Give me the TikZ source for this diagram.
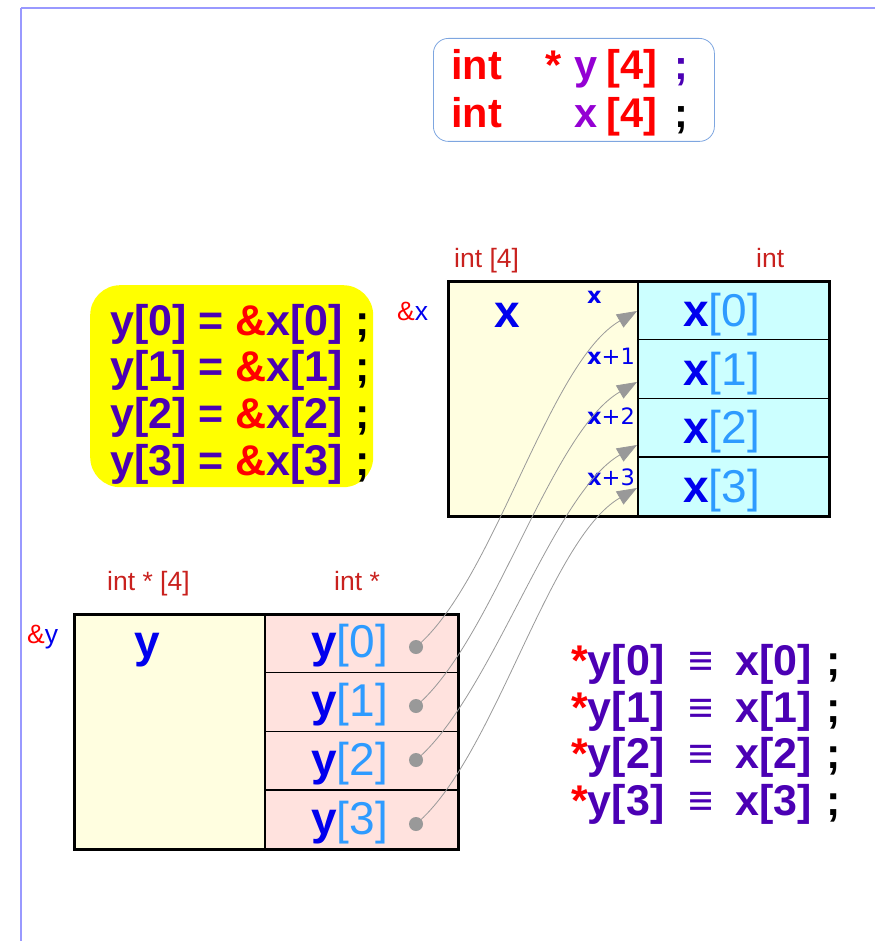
\documentclass[tikz,border=0pt]{standalone}
\usepackage{fontspec}
\setmainfont{Liberation Sans}
\newfontfamily\dejavu{DejaVu Sans}
\usetikzlibrary{arrows.meta,calc}
\definecolor{frameblue}{HTML}{9999FF}
\definecolor{boxblue}{HTML}{7EA6E0}
\definecolor{yel}{HTML}{FFFF00}
\definecolor{lightyel}{HTML}{FFFEE0}
\definecolor{xcyan}{HTML}{CCFFFF}
\definecolor{ypink}{HTML}{FFE2DE}
\definecolor{typered}{HTML}{C9211E}
\definecolor{ampred}{HTML}{FF0000}
\definecolor{xblue}{HTML}{0000EE}
\definecolor{idxblue}{HTML}{2E9BFF}
\definecolor{indig}{HTML}{4B00B4}
\definecolor{purp}{HTML}{9400D3}
\definecolor{arrgray}{HTML}{999999}
\newcommand{\fdecl}{\fontsize{41.5}{46}\selectfont\bfseries}
\newcommand{\fbig}{\fontsize{43}{48}\selectfont\bfseries}
\newcommand{\fcell}{\fontsize{46}{50}\selectfont}
\newcommand{\ftype}{\fontsize{26.5}{30}\selectfont}
\newcommand{\flab}{\fontsize{22.5}{26}\selectfont\dejavu}
\newcommand{\cellx}[1]{\textbf{\textcolor{xblue}{x}}\textcolor{idxblue}{[#1]}}
\newcommand{\celly}[1]{\textbf{\textcolor{xblue}{y}}\textcolor{idxblue}{[#1]}}
\begin{document}
\begin{tikzpicture}[x=1pt,y=1pt,
  txt/.style={inner sep=0pt, anchor=base west},
  cellbox/.style={draw=black, line width=1.5pt, inner sep=0pt, anchor=north west},
  outerbox/.style={draw=black, line width=3pt, inner sep=0pt, anchor=north west},
  dotnode/.style={circle, fill=arrgray, inner sep=0pt, minimum size=14pt},
  ptr/.style={draw=arrgray, line width=0.8pt, -{Triangle[length=20pt,width=15pt]}, out=40, in=210, looseness=0.65}
]
\useasboundingbox (0,0) rectangle (875,-941);
% frame
\coordinate (ftl) at (21,-8);
\coordinate (ftr) at (875,-8);
\coordinate (fbl) at (21,-941);
\draw[frameblue, line width=2pt] (ftl) -- (ftr);
\draw[frameblue, line width=1.2pt] (ftl) -- (fbl);

% declaration box
\node[draw=boxblue, line width=0.8pt, rounded corners=15pt, minimum width=281pt, minimum height=103pt, inner sep=0pt, anchor=north west] (decl) at (433,-38) {};
\node[txt, font=\fdecl, text=ampred] (d1a) at (451,-80) {int};
\node[txt, font=\fdecl, text=ampred] (d1b) at (545,-80) {*};
\node[txt, font=\fdecl, text=purp] (d1c) at (574,-80) {y};
\node[txt, font=\fdecl, text=ampred] (d1d) at (606,-80) {[4]};
\node[txt, font=\fdecl, text=indig] (d1e) at (674,-80) {;};
\node[txt, font=\fdecl, text=ampred] (d2a) at (451,-128) {int};
\node[txt, font=\fdecl, text=purp] (d2c) at (574,-128) {x};
\node[txt, font=\fdecl, text=ampred] (d2d) at (606,-128) {[4]};
\node[txt, font=\fdecl, text=black] (d2e) at (674,-128) {;};

% yellow statements
\node[fill=yel, rounded corners=30pt, minimum width=283pt, minimum height=202pt, inner sep=0pt, anchor=north west] (stmts) at (90,-285) {};
\foreach \i/\yy in {0/335,1/381.5,2/428,3/475}{
  \node[txt, font=\fbig, text=indig] (s\i) at (110,-\yy) {y[\i] = \textcolor{ampred}{\&}x[\i] \textcolor{black}{;}};
}

% x array
\node[cellbox, fill=lightyel, minimum width=190pt, minimum height=235pt] (xleft) at (447,-280) {};
\foreach \i in {0,1,2,3}{
  \node[cellbox, fill=xcyan, minimum width=191pt, minimum height=58.75pt] (xc\i) at (637,-280-58.75*\i) {};
}
\node[outerbox, minimum width=381pt, minimum height=235pt] (xbox) at (447,-280) {};
\foreach \i/\yy in {0/326,1/385,2/443.5,3/502}{
  \node[txt, font=\fcell] (xt\i) at (683,-\yy) {\cellx{\i}};
}
\node[txt, font=\ftype, text=typered] (xtype) at (454,-267) {int [4]};
\node[txt, font=\ftype, text=typered] (xetype) at (756,-267) {int};
\node[txt, font=\ftype] (xaddr) at (397,-320) {\textcolor{ampred}{\&}\textcolor{xblue}{x}};
\node[txt, font=\fcell\bfseries, text=xblue] (xname) at (494,-327) {x};
\node[txt, font=\flab\bfseries, text=xblue] (xl0) at (587,-303) {x};
\foreach \i/\yy in {1/364,2/424,3/485}{
  \node[txt, font=\flab, text=xblue] (xl\i) at (587,-\yy) {\textbf{x}+\i};
}

% y array
\node[cellbox, fill=lightyel, minimum width=191pt, minimum height=235pt] (yleft) at (73,-613) {};
\foreach \i in {0,1,2,3}{
  \node[cellbox, fill=ypink, minimum width=193pt, minimum height=58.75pt] (yc\i) at (264,-613-58.75*\i) {};
}
\node[outerbox, minimum width=384pt, minimum height=235pt] (ybox) at (73,-613) {};
\foreach \i/\yy in {0/657.5,1/716,2/775,3/834}{
  \node[txt, font=\fcell] (yt\i) at (311,-\yy) {\celly{\i}};
}
\node[txt, font=\ftype, text=typered] (ytype) at (107,-590) {int * [4]};
\node[txt, font=\ftype, text=typered] (yetype) at (334,-590) {int *};
\node[txt, font=\ftype] (yaddr) at (27,-643) {\textcolor{ampred}{\&}\textcolor{xblue}{y}};
\node[txt, font=\fcell\bfseries, text=xblue] (yname) at (134,-657) {y};

% pointer dots and arrows
\foreach \i/\yy in {0/647,1/706,2/760,3/824}{
  \node[dotnode] (yd\i) at (416,-\yy) {};
}
\foreach \i/\yy in {0/311,1/382,2/445,3/488}{
  \coordinate (t\i) at (637,-\yy);
}
\foreach \i in {0,1,2,3}{
  \draw[ptr] (yd\i.center) to (t\i);
}

% equivalences
\foreach \i/\yy in {0/675,1/722,2/768,3/815}{
  \node[txt, font=\fbig, text=indig] (ea\i) at (571,-\yy) {\textcolor{ampred}{*}y[\i]};
  \node[txt, font=\fbig, text=indig] (eb\i) at (688,-\yy) {≡};
  \node[txt, font=\fbig, text=indig] (ec\i) at (735,-\yy) {x[\i]};
  \node[txt, font=\fbig, text=black] (ed\i) at (826,-\yy) {;};
}
\end{tikzpicture}
\end{document}
